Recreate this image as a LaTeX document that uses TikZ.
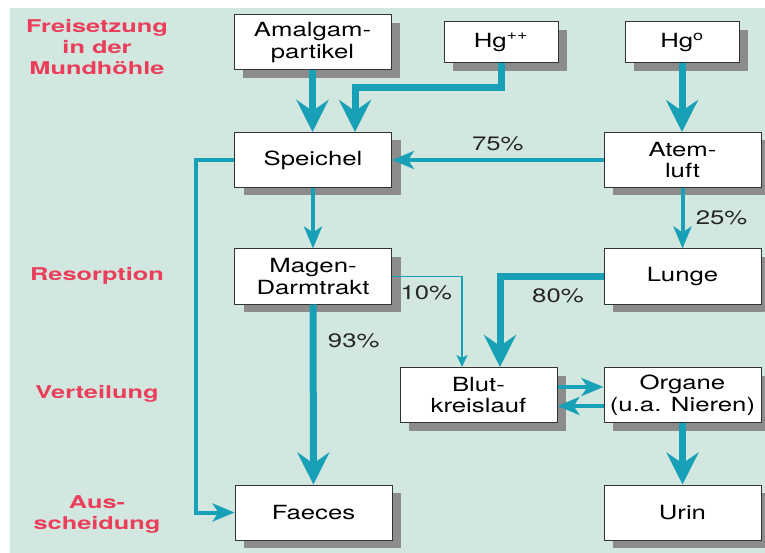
\documentclass[tikz,border=0pt]{standalone}
\usepackage{fontspec}
\setmainfont[FakeStretch=1.32]{TeX Gyre Heros}
\newfontfamily\stagefont[Extension=.otf,UprightFont=*-bold,FakeStretch=1.44]{texgyreheros}
\usepackage{tikz}
\usetikzlibrary{arrows.meta,shadows,calc}
\definecolor{flowteal}{RGB}{24,160,182}
\definecolor{stagered}{RGB}{236,62,90}
\definecolor{paper}{RGB}{210,231,224}

\begin{document}
\begin{tikzpicture}[x=1pt,y=-1pt,
  box/.style={draw=black!80,line width=1pt,fill=white,align=center,inner sep=0pt,
    minimum width=157pt,minimum height=55pt,font=\fontsize{19.5}{21.7}\selectfont,
    drop shadow={shadow xshift=9pt,shadow yshift=-8pt,fill=black!45,opacity=1}},
  smallbox/.style={box,minimum width=114pt,minimum height=41pt},
  stage/.style={text=stagered,align=center,font=\stagefont\fontsize{17.6}{21}\selectfont},
  pct/.style={font=\fontsize{19.5}{21.7}\selectfont,text=black!85},
  bigflow/.style={draw=flowteal,line width=7pt,-{Stealth[length=32pt,width=32pt,inset=11pt]}},
  midflow/.style={draw=flowteal,line width=4pt,-{Stealth[length=22pt,width=18pt,inset=6pt]}},
  fineflow/.style={draw=flowteal,line width=1.5pt,-{Stealth[length=12pt,width=11pt,inset=3pt]}}]
\useasboundingbox (0,0) rectangle (765,553);
\fill[paper] (10,8) rectangle (765,553);

\node[stage] (freisetzung) at (97,47) {Freisetzung\\in der\\Mundhöhle};
\node[stage] (resorption) at (97,276) {Resorption};
\node[stage] (verteilung) at (97,394) {Verteilung};
\node[stage] (ausscheidung) at (97,514) {Aus-\\scheidung};

\node[box] (amalgam) at (312.5,42.5) {Amalgam-\\partikel};
\node[smallbox] (hgion) at (501,42.5) {Hg\textsuperscript{++}};
\node[smallbox] (hgvap) at (682,42.5) {Hg\textsuperscript{o}};
\node[box] (speichel) at (313,160) {Speichel};
\node[box] (atemluft) at (682.5,160) {Atem-\\luft};
\node[box] (magen) at (313,276.5) {Magen-\\Darmtrakt};
\node[box] (lunge) at (682.5,276.5) {Lunge};
\node[box] (blut) at (478.5,395) {Blut-\\kreislauf};
\node[box] (organe) at (682.5,395) {Organe\\(u.a. Nieren)};
\node[box] (faeces) at (313.5,512.5) {Faeces};
\node[box] (urin) at (682.5,512.5) {Urin};

\coordinate (hgbend) at (355,88);
\draw[bigflow] (amalgam.south) -- (amalgam.south |- speichel.north);
\draw[bigflow] (hgion.south) |- (hgbend) -- (hgbend |- speichel.north);
\draw[bigflow] (hgvap.south) -- (hgvap.south |- atemluft.north);
\draw[midflow] (atemluft) -- node[pct,above=4pt]{75\%} (speichel);
\draw[midflow] (atemluft) -- node[pct,right=8pt]{25\%} (lunge);
\draw[midflow] (speichel) -- (magen);
\draw[midflow] (speichel.west) -- ++(-38,0) |- (faeces.west);
\draw[bigflow] (magen) -- node[pct,pos=0.2,right=8pt]{93\%} (faeces);
\draw[fineflow] (magen.east) -| node[pct,pos=0.245,below=5pt]{10\%} ([xshift=-16.5pt]blut.north);
\draw[bigflow] (lunge.west) -| node[pct,pos=0.22,below=5pt]{80\%} ([xshift=21.5pt]blut.north);
\draw[midflow] ([yshift=8pt]blut.east) -- ([yshift=8pt]organe.west);
\draw[midflow] ([yshift=-11pt]organe.west) -- ([yshift=-11pt]blut.east);
\draw[bigflow] (organe) -- (urin);
\end{tikzpicture}
\end{document}
